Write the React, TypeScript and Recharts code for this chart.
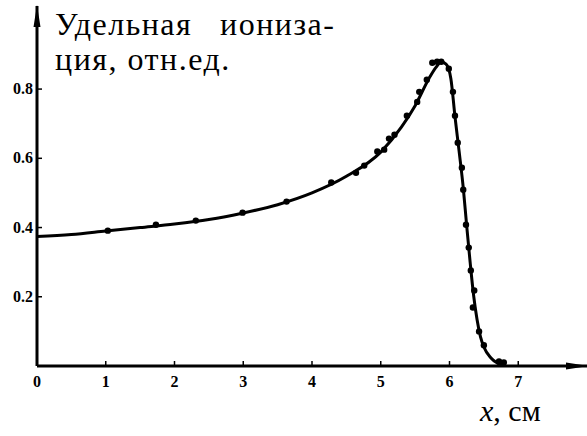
import { ComposedChart, Line, Scatter, XAxis, YAxis } from "recharts";

// smooth curve
const curveX = [0, 0.5, 1, 1.5, 2, 2.5, 3, 3.5, 4, 4.5, 5, 5.3, 5.5, 5.7, 5.8, 5.88, 5.95, 6.02, 6.08, 6.14, 6.2, 6.25, 6.3, 6.35, 6.4, 6.45, 6.5, 6.6, 6.7, 6.8];
const curveY = [0.374, 0.38, 0.39, 0.4, 0.41, 0.423, 0.442, 0.466, 0.5, 0.548, 0.618, 0.69, 0.752, 0.83, 0.862, 0.878, 0.872, 0.83, 0.72, 0.62, 0.515, 0.405, 0.3, 0.205, 0.135, 0.085, 0.055, 0.024, 0.008, 0.0];

// measured points
const pointX = [1.03, 1.73, 2.31, 2.99, 3.63, 4.28, 4.64, 4.76, 4.95, 5.05, 5.12, 5.2, 5.38, 5.53, 5.56, 5.67, 5.75, 5.82, 5.88, 5.99, 6.05, 6.08, 6.12, 6.18, 6.2, 6.24, 6.28, 6.31, 6.36, 6.34, 6.43, 6.5, 6.72, 6.79];
const pointY = [0.391, 0.408, 0.42, 0.443, 0.475, 0.53, 0.558, 0.579, 0.62, 0.625, 0.657, 0.668, 0.723, 0.763, 0.792, 0.827, 0.876, 0.879, 0.879, 0.859, 0.792, 0.723, 0.645, 0.573, 0.509, 0.408, 0.342, 0.276, 0.218, 0.169, 0.1, 0.06, 0.013, 0.01];

const xTicks = [0, 1, 2, 3, 4, 5, 6, 7];
const yTicks = [0.2, 0.4, 0.6, 0.8];
const yTickLabels = ["0.2", "0.4", "0.6", "0.8"];

const titleWords = ["Удельная", "иониза-"];
const titleLine2 = "ция, отн.ед.";
const xLabelVar = "x";
const xLabelUnit = ", см";

const curveData = curveX.map((x, i) => ({ x, y: curveY[i] }));
const pointData = pointX.map((x, i) => ({ x, y: pointY[i] }));

const SERIF = "Liberation Serif";

// tick labels drawn as plain svg text so the serif font sticks
function XTick(props: any) {
  const { x, y, payload } = props;
  return (
    <text x={x} y={y + 12} textAnchor="middle" fontFamily={SERIF} fontWeight={700} fontSize={16} fill="#000">
      {payload.value}
    </text>
  );
}

function YTick(props: any) {
  const { x, y, payload } = props;
  const label = yTickLabels[yTicks.indexOf(payload.value)] ?? String(payload.value);
  return (
    <text x={x} y={y + 5} textAnchor="end" fontFamily={SERIF} fontWeight={700} fontSize={16} fill="#000">
      {label}
    </text>
  );
}

export default function App() {
  return (
    <div style={{ position: "absolute", left: 0, top: 0, width: 587, height: 436, background: "#fff" }}>
      <ComposedChart
        width={587}
        height={436}
        margin={{ top: 6, right: 0, bottom: 40, left: 0 }}
      >
        <defs>
          <marker
            id="arrowHead"
            markerWidth="22"
            markerHeight="10"
            refX="21"
            refY="5"
            orient="auto-start-reverse"
            markerUnits="userSpaceOnUse"
          >
            <path d="M0,1.5 L22,5 L0,8.5 Z" fill="#000" />
          </marker>
        </defs>

        <XAxis
          type="number"
          dataKey="x"
          domain={[0, 8]}
          ticks={xTicks}
          height={30}
          allowDataOverflow
          axisLine={{ stroke: "#000", strokeWidth: 3, markerEnd: "url(#arrowHead)" }}
          tickLine={{ stroke: "#000", strokeWidth: 1.5 }}
          tickSize={-5}
          tickMargin={14}
          tick={<XTick />}
        />
        <YAxis
          type="number"
          domain={[0, 1.04]}
          ticks={yTicks}
          width={37}
          allowDataOverflow
          axisLine={{ stroke: "#000", strokeWidth: 3, markerStart: "url(#arrowHead)" }}
          tickLine={{ stroke: "#000", strokeWidth: 1.5 }}
          tickSize={-5}
          tickMargin={9}
          tick={<YTick />}
        />

        <Line
          data={curveData}
          dataKey="y"
          type="monotone"
          stroke="#000"
          strokeWidth={3}
          dot={false}
          isAnimationActive={false}
        />
        <Scatter
          data={pointData}
          dataKey="y"
          fill="#000"
          shape={(p: any) => <circle cx={p.cx} cy={p.cy} r={3.2} fill="#000" />}
          isAnimationActive={false}
        />
      </ComposedChart>

      <svg
        width={587}
        height={436}
        style={{ position: "absolute", left: 0, top: 0, pointerEvents: "none" }}
      >
        <text fontFamily={SERIF} fontSize={32} letterSpacing={1.5} fill="#000">
          <tspan x={55} y={35}>{titleWords[0]}</tspan>
          <tspan x={220} y={35}>{titleWords[1]}</tspan>
        </text>
        <text x={55} y={70} fontFamily={SERIF} fontSize={32} letterSpacing={1.5} fill="#000">
          {titleLine2}
        </text>
        <text x={480} y={421} fontFamily={SERIF} fontSize={30} fill="#000">
          <tspan fontStyle="italic">{xLabelVar}</tspan>
          <tspan>{xLabelUnit}</tspan>
        </text>
      </svg>
    </div>
  );
}
